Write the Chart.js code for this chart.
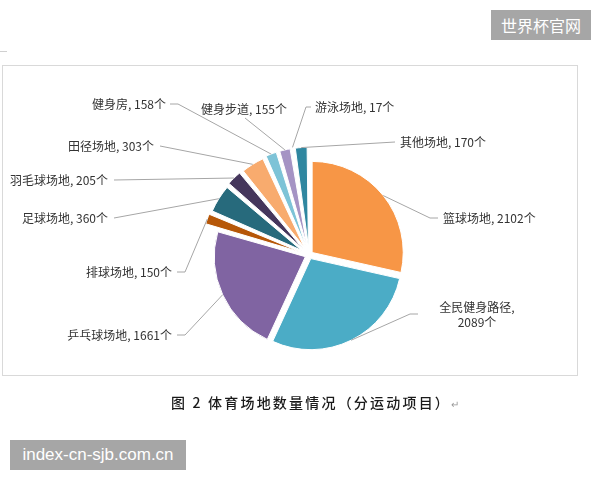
<!DOCTYPE html>
<html>
<head>
<meta charset="utf-8">
<script src="https://cdn.jsdelivr.net/npm/chart.js@4/dist/chart.umd.min.js"></script>
<style>
  html, body { margin: 0; padding: 0; background: #fff; width: 600px; height: 480px; overflow: hidden; }
  #frame { position: absolute; left: 2px; top: 65px; width: 574px; height: 309px; border: 1px solid #D9D9D9; }
  #mark { position: absolute; left: 0; top: 51px; width: 7px; height: 1px; background: #D0D0D0; }
  #wrap { position: absolute; left: 0; top: 0; width: 600px; height: 480px; }
  #caption { position: absolute; left: 0; width: 630px; top: 392px; text-align: center;
    font-family: "Noto Sans CJK SC", sans-serif; font-size: 14px; letter-spacing: 2.2px; color: #1a1a1a; font-weight: 500; }
  #caption span { color: #999; font-size: 10px; letter-spacing: 0; }
  .wm { position: absolute; background: #A6A6A6; color: #fff; text-align: center; }
  #wm1 { left: 491px; top: 10px; width: 100px; height: 30px; line-height: 30px; font-family: "Noto Sans CJK SC", sans-serif; font-size: 16px; }
  #wm2 { left: 10px; top: 440px; width: 176px; height: 30px; line-height: 30px; font-family: "Liberation Sans", Arial, sans-serif; font-size: 17px; }
</style>
</head>
<body>
<div id="mark"></div>
<div id="frame"></div>
<div id="wrap"><canvas id="c" width="600" height="480"></canvas></div>
<div id="caption">图 2 体育场地数量情况（分运动项目）<span>↵</span></div>
<div class="wm" id="wm1">世界杯官网</div>
<div class="wm" id="wm2">index-cn-sjb.com.cn</div>
<script>
// ---- data ----
const categories = ['篮球场地', '全民健身路径', '乒乓球场地', '排球场地', '足球场地', '羽毛球场地', '田径场地', '健身房', '健身步道', '游泳场地', '其他场地'];
const counts = [2102, 2089, 1661, 150, 360, 205, 303, 158, 155, 17, 170];
const unit = '个';

// ---- styles / layout ----
const colors = ['#F79646', '#4BACC6', '#8064A2', '#B65708', '#276A7C', '#45365C', '#F8AB6E', '#7DC3D7', '#A593C4', '#984807', '#2F87A0'];
const offsets = [16, 16, 16, 36, 36, 36, 36, 36, 36, 36, 36];
const labelX     = [443, 477, 172, 172, 108, 108, 154, 166, 244, 315, 400];
const labelY     = [218, 307, 335, 272, 218, 180, 146, 104, 109, 107, 142];
const labelAlign = ['left', 'center', 'right', 'right', 'right', 'right', 'right', 'right', 'center', 'left', 'left'];
const labelWrap  = [false, true, false, false, false, false, false, false, false, false, false];
const lineStartX = [438, 418, 177, 177, 114, 114, 160, 170, 245, 311, 395];
const lineStartY = [218, 314, 335, 272, 218, 180, 146, 104, 118, 107, 142];
const elbowX     = [430, 410, 185, 185, 114, 114, 160, 178, 245, 306, 395];

const labelPlugin = {
  id: 'leaderLabels',
  afterDatasetsDraw(chart) {
    const ctx = chart.ctx;
    const meta = chart.getDatasetMeta(0);
    ctx.save();
    meta.data.forEach((arc, i) => {
      const p = arc.getProps(['x', 'y', 'startAngle', 'endAngle', 'outerRadius', 'circumference']);
      const off = (arc.options.offset || 0) / 4;
      const h = (p.startAngle + p.endAngle) / 2;
      const fix = 1 - Math.sin(Math.min(Math.PI, p.circumference || 0));
      const r = p.outerRadius + off * fix;
      const ex = p.x + Math.cos(h) * (off + r);
      const ey = p.y + Math.sin(h) * (off + r);
      ctx.strokeStyle = '#A6A6A6';
      ctx.lineWidth = 1;
      ctx.beginPath();
      ctx.moveTo(lineStartX[i], lineStartY[i]);
      ctx.lineTo(elbowX[i], lineStartY[i]);
      ctx.lineTo(ex, ey);
      ctx.stroke();

      ctx.fillStyle = '#333333';
      ctx.font = '12px "Noto Sans CJK SC", sans-serif';
      ctx.textAlign = labelAlign[i];
      ctx.textBaseline = 'middle';
      const txt = categories[i] + ', ' + counts[i] + unit;
      if (labelWrap[i]) {
        ctx.fillText(categories[i] + ',', labelX[i], labelY[i]);
        ctx.fillText(counts[i] + unit, labelX[i], labelY[i] + 15);
      } else {
        ctx.fillText(txt, labelX[i], labelY[i]);
      }
    });
    ctx.restore();
  }
};

new Chart(document.getElementById('c'), {
  type: 'pie',
  data: {
    labels: categories,
    datasets: [{
      data: counts,
      backgroundColor: colors,
      borderColor: '#FFFFFF',
      borderWidth: 1,
      offset: offsets
    }]
  },
  options: {
    responsive: false,
    animation: false,
    radius: 91,
    layout: { padding: { left: 18, top: 30, right: 0, bottom: 0 } },
    plugins: { legend: { display: false }, tooltip: { enabled: false } }
  },
  plugins: [labelPlugin]
});
</script>
</body>
</html>
